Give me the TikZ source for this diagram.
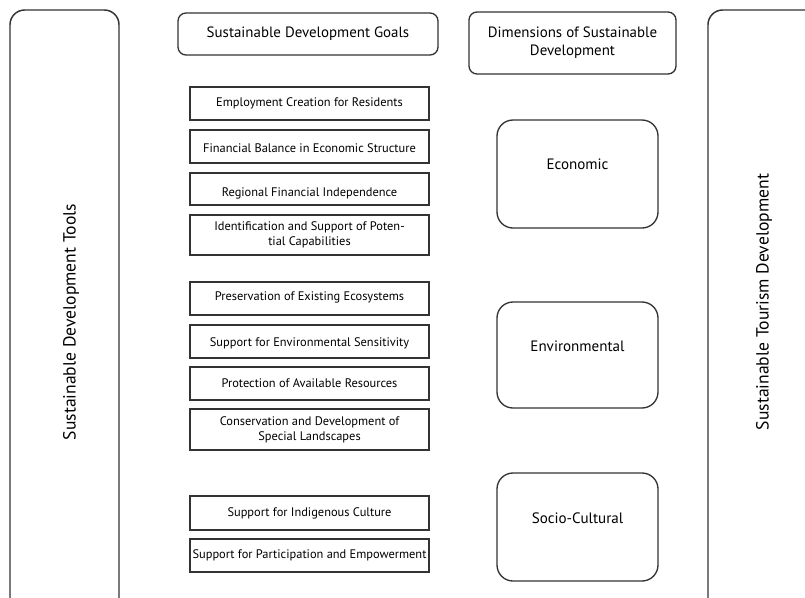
\documentclass[tikz,border=0pt]{standalone}
\usepackage{fontspec}
\setmainfont{PT Sans}
\begin{document}
\begin{tikzpicture}[x=0.75pt,y=-0.75pt,
  frame/.style={draw=black!80, line width=1.1pt, rounded corners=11pt},
  head/.style={draw=black!80, line width=1pt, rounded corners=6pt},
  dim/.style={draw=black!80, line width=1pt, rounded corners=12pt},
  goal/.style={draw=black!80, line width=1pt},
  gtxt/.style={font=\fontsize{9.3}{11}\selectfont, align=center, inner sep=0pt},
  htxt/.style={font=\fontsize{11.2}{13.5}\selectfont, align=center},
  dtxt/.style={font=\fontsize{11.3}{13}\selectfont, align=center},
  vtxt/.style={font=\fontsize{13.2}{15}\selectfont, rotate=90}]
\useasboundingbox (0,0) rectangle (805,597);
% side frames
\draw[frame] (10,615) -- (10,10) -- (119,10) -- (119,615);
\node[vtxt] (tools) at (71,322) {Sustainable Development Tools};
\draw[frame] (708,615) -- (708,10) -- (830,10);
\node[vtxt] (tour) at (764,302) {Sustainable Tourism Development};
% headers
\draw[head] (178,13) rectangle (438,55);
\node[htxt] (sdg) at (308,34) {Sustainable Development Goals};
\draw[head] (469,12) rectangle (676,74);
\node[htxt] (dims) at (572.5,43) {Dimensions of Sustainable\\Development};
% dimension boxes
\draw[dim] (497,120) rectangle (658,228);
\node[dtxt] (eco) at (577.5,164) {Economic};
\draw[dim] (497,302) rectangle (658,408);
\node[dtxt] (env) at (577.5,346) {Environmental};
\draw[dim] (497,473) rectangle (658,581);
\node[dtxt] (soc) at (577.5,518) {Socio-Cultural};
% goal boxes
\draw[goal] (190,87) rectangle (429,120);
\node[gtxt] (g1) at (309.5,103.5) {Employment Creation for Residents};
\draw[goal] (190,130) rectangle (429,163);
\node[gtxt] (g2) at (309.5,148) {Financial Balance in Economic Structure};
\draw[goal] (190,173) rectangle (429,205);
\node[gtxt] (g3) at (309.5,193) {Regional Financial Independence};
\draw[goal] (190,215) rectangle (429,255);
\node[gtxt] (g4) at (309.5,235) {Identification and Support of Poten-\\tial Capabilities};
\draw[goal] (190,282) rectangle (429,315);
\node[gtxt] (g5) at (309.5,297) {Preservation of Existing Ecosystems};
\draw[goal] (190,325) rectangle (429,358);
\node[gtxt] (g6) at (309.5,343) {Support for Environmental Sensitivity};
\draw[goal] (190,367) rectangle (429,400);
\node[gtxt] (g7) at (309.5,383) {Protection of Available Resources};
\draw[goal] (190,409) rectangle (429,450);
\node[gtxt] (g8) at (309.5,430) {Conservation and Development of\\Special Landscapes};
\draw[goal] (190,496) rectangle (429,530);
\node[gtxt] (g9) at (309.5,513) {Support for Indigenous Culture};
\draw[goal] (190,539) rectangle (429,572);
\node[gtxt] (g10) at (309.5,555) {Support for Participation and Empowerment};
\end{tikzpicture}
\end{document}
